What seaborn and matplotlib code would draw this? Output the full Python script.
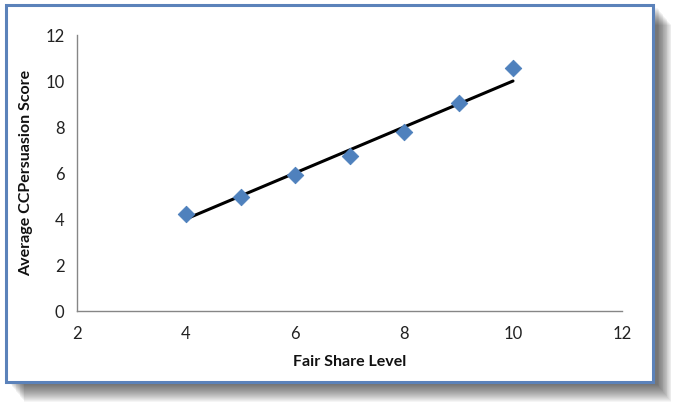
import matplotlib
matplotlib.use("Agg")
import matplotlib.pyplot as plt
import seaborn as sns
import pandas as pd
from matplotlib.patches import Rectangle

# data
fair_share = [4, 5, 6, 7, 8, 9, 10]
persuasion = [4.2, 4.95, 5.9, 6.75, 7.8, 9.05, 10.55]
trend_x = [4, 10]
trend_y = [4.0, 10.0]
x_ticks = [2, 4, 6, 8, 10, 12]
y_ticks = [0, 2, 4, 6, 8, 10, 12]

df = pd.DataFrame({"x": fair_share, "y": persuasion})
trend = pd.DataFrame({"x": trend_x, "y": trend_y})

sns.set_theme(style="white")
plt.rcParams["font.family"] = ["Lato", "DejaVu Sans"]

W, H = 682, 413
fig = plt.figure(figsize=(W / 100, H / 100), dpi=100)
fig.patch.set_facecolor("white")

# soft drop shadow + blue frame around the chart area
x0, y0, x1, y1 = 6, 5, 653, 382
for i in range(18, 0, -1):
    fig.patches.append(Rectangle(((x0 + 4 + i * 0.8) / W, 1 - (y1 + 2 + i * 1.0) / H),
                                 (x1 - x0) / W, (y1 - y0) / H,
                                 transform=fig.transFigure, facecolor="black",
                                 edgecolor="none", alpha=0.04, zorder=0))
fig.patches.append(Rectangle((x0 / W, 1 - y1 / H), (x1 - x0) / W, (y1 - y0) / H,
                             transform=fig.transFigure, facecolor="white",
                             edgecolor="#5B82BA", linewidth=2.2, zorder=1))

ax = fig.add_axes([77 / W, 1 - 311 / H, (622 - 77) / W, (311 - 35) / H])
ax.set_facecolor("none")
ax.set_zorder(2)

sns.lineplot(data=trend, x="x", y="y", ax=ax, color="black", linewidth=2.2, zorder=3)
sns.scatterplot(data=df, x="x", y="y", ax=ax, marker="D", s=70,
                color="#4F81BD", edgecolor="#4F81BD", zorder=4)

ax.set_xlim(2, 12)
ax.set_ylim(0, 12)
ax.set_xticks(x_ticks)
ax.set_yticks(y_ticks)
ax.tick_params(axis="both", labelsize=12, colors="#868686", labelcolor="#222222",
               length=4, width=1, direction="out")
ax.tick_params(axis="x", pad=7)
ax.tick_params(axis="y", pad=5)
for side in ["top", "right"]:
    ax.spines[side].set_visible(False)
for side in ["left", "bottom"]:
    ax.spines[side].set_color("#868686")
    ax.spines[side].set_linewidth(1)

ax.set_xlabel("Fair Share Level", fontsize=11.5, fontweight="bold", color="#111111", labelpad=9)
ax.set_ylabel("Average CCPersuasion Score", fontsize=11.5, fontweight="bold", color="#111111", labelpad=9)

fig.savefig("out.png", dpi=100)
